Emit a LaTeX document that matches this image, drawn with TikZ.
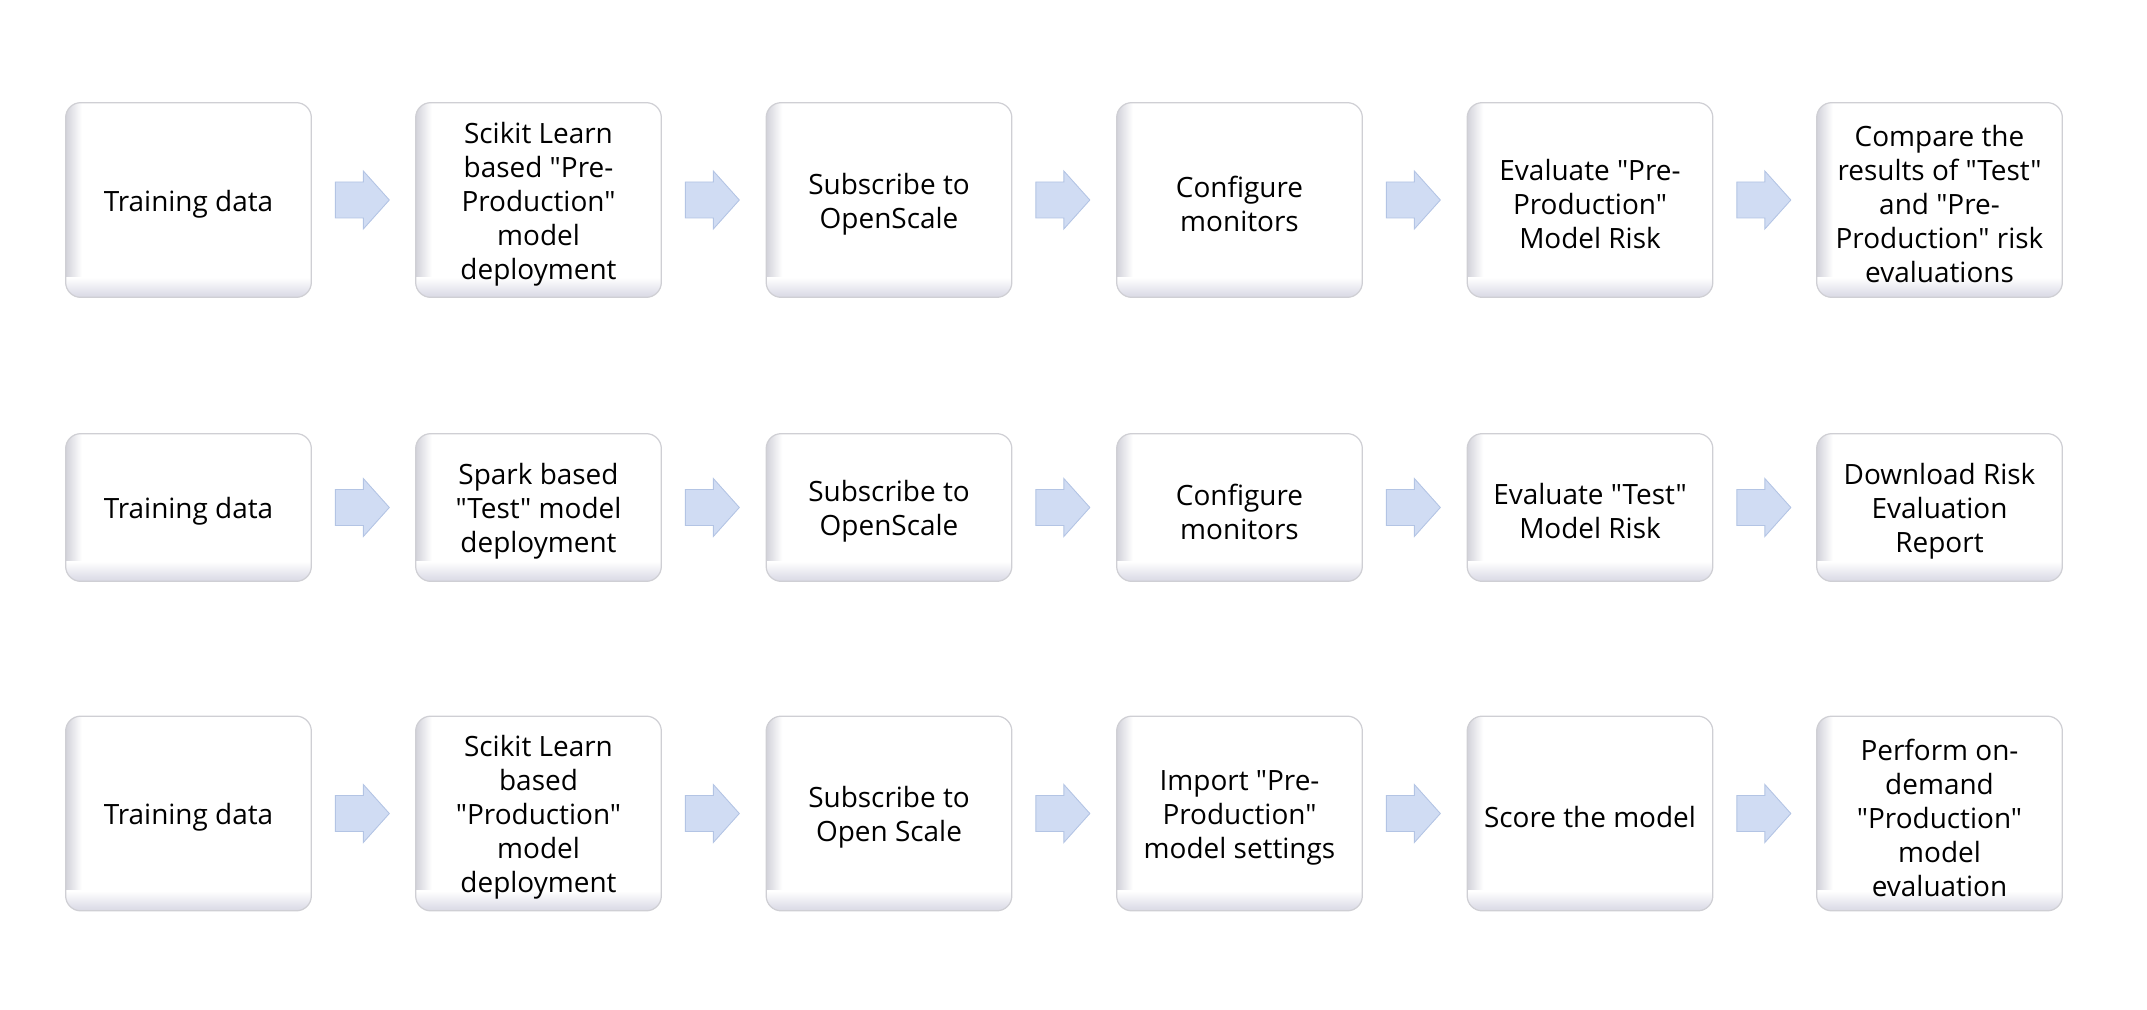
\documentclass[tikz,border=0pt]{standalone}
\usepackage{fontspec}
\setmainfont{Open Sans}[Ligatures=TeXOff]
\usetikzlibrary{calc}
\pgfdeclarelayer{background}
\pgfsetlayers{background,main}
\definecolor{boxborder}{HTML}{CFCFD4}
\definecolor{bevelL}{HTML}{D2D2DA}
\definecolor{bevelB}{HTML}{D8D8E4}
\definecolor{arrfill}{HTML}{D0DCF3}
\definecolor{arrdraw}{HTML}{B3C4E4}
\tikzset{
  stepbox/.style={rounded corners=0.3cm, minimum width=4.9cm, align=center, inner sep=0pt,
    font=\fontsize{15.9}{19.35}\selectfont},
  tallbox/.style={stepbox, minimum height=3.88cm},
  lowbox/.style={stepbox, minimum height=2.94cm},
  blockarrow/.style={fill=arrfill, draw=arrdraw, line width=0.5pt, line join=miter},
  boxedge/.style={draw=boxborder, line width=0.7pt, rounded corners=0.3cm},
}
% text is set 4px below the box centre, so the box is drawn 4px above the node
\newcommand\bevelbox[1]{%
  \begin{pgfonlayer}{background}
  \coordinate (sw) at ($(#1.south west)+(0,-4)$);
  \coordinate (ne) at ($(#1.north east)+(0,-4)$);
  \coordinate (nw) at ($(#1.north west)+(0,-4)$);
  \coordinate (se) at ($(#1.south east)+(0,-4)$);
  \fill[white, rounded corners=0.3cm] (sw) rectangle (ne);
  \begin{scope}
    \clip[rounded corners=0.3cm] (sw) rectangle (ne);
    \shade[left color=bevelL, right color=white] (sw) rectangle ($(nw)+(16,0)$);
    \shade[bottom color=bevelB, top color=white] (sw) rectangle ($(se)+(0,-20)$);
  \end{scope}
  \draw[boxedge] (sw) rectangle (ne);
  \end{pgfonlayer}
}
\newcommand\flowarrow[1]{%
  \draw[blockarrow] ($(#1.east)+(24,-22)$) -- ($(#1.east)+(52,-22)$) -- ($(#1.east)+(52,-33)$)
    -- ($(#1.east)+(78,-4)$) -- ($(#1.east)+(52,25)$) -- ($(#1.east)+(52,14)$)
    -- ($(#1.east)+(24,14)$) -- cycle;
}
\begin{document}
\begin{tikzpicture}[x=0.02cm, y=-0.02cm]
\useasboundingbox (0,0) rectangle (2147,1010);
% Row 1
\node[tallbox] (a1) at (188.5,204) {Training data};
\node[tallbox] (a2) at (538.5,204) {Scikit Learn\\based "Pre-\\Production"\\model\\deployment};
\node[tallbox] (a3) at (889,204) {Subscribe to\\OpenScale};
\node[tallbox] (a4) at (1239.5,204) {Configure\\monitors};
\node[tallbox] (a5) at (1590,204) {Evaluate "Pre-\\Production"\\Model Risk};
\node[tallbox] (a6) at (1939.5,204) {Compare the\\results of "Test"\\and "Pre-\\Production" risk\\evaluations};
% Row 2
\node[lowbox] (b1) at (188.5,511.5) {Training data};
\node[lowbox] (b2) at (538.5,511.5) {Spark based\\"Test" model\\deployment};
\node[lowbox] (b3) at (889,511.5) {Subscribe to\\OpenScale};
\node[lowbox] (b4) at (1239.5,511.5) {Configure\\monitors};
\node[lowbox] (b5) at (1590,511.5) {Evaluate "Test"\\Model Risk};
\node[lowbox] (b6) at (1939.5,511.5) {Download Risk\\Evaluation\\Report};
% Row 3
\node[tallbox] (c1) at (188.5,817.5) {Training data};
\node[tallbox] (c2) at (538.5,817.5) {Scikit Learn\\based\\"Production"\\model\\deployment};
\node[tallbox] (c3) at (889,817.5) {Subscribe to\\Open Scale};
\node[tallbox] (c4) at (1239.5,817.5) {Import "Pre-\\Production"\\model settings};
\node[tallbox] (c5) at (1590,817.5) {Score the model};
\node[tallbox] (c6) at (1939.5,817.5) {Perform on-\\demand\\"Production"\\model\\evaluation};
\foreach \r in {a,b,c}{
  \foreach \c in {1,...,6}{\bevelbox{\r\c}}
  \foreach \c in {1,...,5}{\flowarrow{\r\c}}
}
\end{tikzpicture}
\end{document}
